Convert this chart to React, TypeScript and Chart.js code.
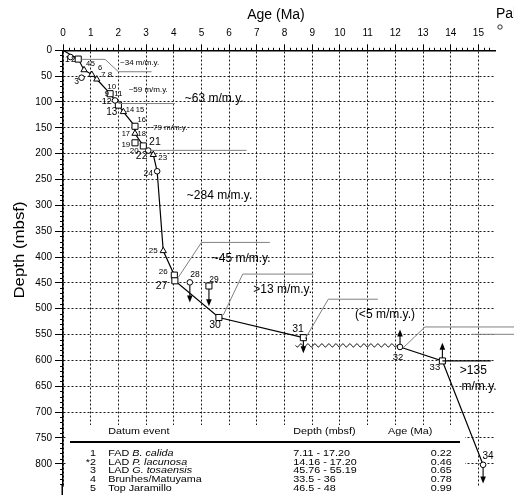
import React, { useEffect, useRef } from "react";
import { Chart, registerables } from "chart.js";
Chart.register(...registerables);

const FONT = "'Liberation Sans', Arial, Helvetica, sans-serif";

// ---------- data ----------
const xTickValues = [0, 1, 2, 3, 4, 5, 6, 7, 8, 9, 10, 11, 12, 13, 14, 15];
const yTickValues = [0, 50, 100, 150, 200, 250, 300, 350, 400, 450, 500, 550, 600, 650, 700, 750, 800];

// age (Ma), depth (mbsf)
const pathUpper: [number, number][] = [
  [0, 0], [0.55, 17], [0.76, 38], [1.04, 47], [1.22, 56], [1.7, 84], [2.0, 106], [2.18, 119],
  [2.6, 147], [2.6, 161], [2.9, 185], [3.08, 194], [3.26, 202], [3.4, 234], [3.62, 388],
  [4.02, 435], [4.04, 446], [5.63, 517], [8.68, 556],
];
const pathLower: [number, number][] = [[12.17, 574], [13.7, 601], [15.17, 802]];

const circleData: [number, number][] = [
  [0.27, 13], [0.67, 53], [1.88, 97], [3.08, 194], [3.4, 234], [4.58, 449], [12.17, 574], [15.17, 802],
];
const squareData: [number, number][] = [
  [0.55, 17], [1.7, 84], [2.0, 106], [2.6, 147], [2.6, 179], [2.9, 185], [4.02, 435], [4.04, 446],
  [5.27, 456], [5.63, 517], [8.68, 556], [13.7, 601],
];
const triangleData: [number, number][] = [
  [0.76, 38], [1.04, 47], [1.22, 56], [2.18, 119], [2.6, 161], [3.26, 202], [3.62, 388],
];

// arrows: age, from depth, to depth
const arrowData: [number, number, number][] = [
  [4.58, 449, 488], [5.27, 456, 495], [8.68, 556, 586], [12.17, 574, 540], [13.7, 601, 566], [15.17, 802, 838],
];

// hiatus: from age, to age, depth
const hiatusData: [number, number, number] = [8.4, 12.1, 571];

// point labels: text, age, depth, font size
const pointLabels: [string, number, number, number][] = [
  ["1", 0.155, 18.8, 8.5], ["2", 0.37, 18.8, 8.5], ["3", 0.49, 61, 8.5], ["4", 0.91, 27.2, 7.5],
  ["5", 1.08, 27.2, 7.5], ["6", 1.34, 35, 7.5], ["7", 1.45, 48, 8], ["8", 1.7, 48, 8],
  ["10", 1.76, 70.7, 8], ["9", 1.58, 83.5, 8], ["11", 2.0, 83.5, 8], ["12", 1.58, 99.8, 9],
  ["13", 1.76, 119.2, 10], ["14", 2.42, 116, 7.5], ["15", 2.78, 116, 7.5], ["16", 2.84, 135.3, 7.5],
  ["17", 2.27, 162.5, 7.5], ["18", 2.84, 162.5, 7.5], ["19", 2.27, 182, 8], ["21", 3.32, 177.5, 10.5],
  ["20", 2.57, 193.6, 8], ["22", 2.84, 204.7, 10.5], ["23", 3.6, 208.5, 8], ["24", 3.08, 238.8, 8.5],
  ["25", 3.26, 387.8, 8], ["26", 3.62, 428, 8], ["27", 3.56, 455.7, 10.5], ["28", 4.77, 435, 8.5],
  ["29", 5.45, 444.7, 8.5], ["30", 5.49, 531.5, 10.5], ["31", 8.49, 538.6, 10.5], ["32", 12.1, 593.6, 9.5],
  ["33", 13.43, 614.4, 9.5], ["34", 15.35, 785.8, 10],
];

// sedimentation-rate labels: text, age (left edge), depth (centre), font size
const rateLabels: [string, number, number, number][] = [
  ["~34 m/m.y.", 2.06, 24.7, 8], ["~59 m/m.y.", 2.37, 75.7, 8], ["~63 m/m.y.", 4.4, 93.2, 12],
  ["~79 m/m.y.", 3.08, 150.3, 8], ["~284 m/m.y.", 4.47, 281, 12], ["~45 m/m.y.", 5.37, 404, 12],
  [">13 m/m.y.", 6.87, 464, 12], ["(<5 m/m.y.)", 10.54, 510.7, 12], [">135", 14.33, 620.8, 12],
  ["m/m.y.", 14.39, 650, 12],
];

// leader lines (age, depth) polylines
const leaderLines: [number, number][][] = [
  [[0.675, 17.5], [1.52, 17.5], [2.0, 41.5], [3.2, 41.5]],
  [[2.0, 103], [4.04, 103]],
  [[3.14, 193.6], [6.63, 193.6]],
  [[4.16, 439.6], [5.0, 371.7], [7.47, 371.7]],
  [[5.79, 512], [6.49, 433], [9.04, 433]],
  [[8.74, 558.6], [9.58, 481.6], [11.37, 481.6]],
  [[12.29, 575.5], [13.07, 535.3], [16.3, 535.3]],
  [[14.75, 549.5], [16.3, 549.5]],
];
const blackLeader: [number, number][] = [[13.7, 601], [15.45, 601]];

// table
const tableNums = ["1", "*2", "3", "4", "5"];
const tablePrefix = ["FAD ", "LAD ", "LAD ", "", ""];
const tableTaxa = ["B. calida", "P. lacunosa", "G. tosaensis", "Brunhes/Matuyama", "Top Jaramillo"];
const tableItalic = [true, true, true, false, false];
const tableDepths = ["7.11 - 17.20", "14.16 - 17.20", "45.76 - 55.19", "33.5 - 36", "46.5 - 48"];
const tableAges = ["0.22", "0.46", "0.65", "0.78", "0.99"];

const toXY = (arr: [number, number][]) => arr.map(([x, y]) => ({ x, y }));

const SX = 1.1;
function stretchText(ctx: CanvasRenderingContext2D, t: string, x: number, y: number, align: CanvasTextAlign) {
  ctx.save();
  ctx.translate(x, y);
  ctx.scale(SX, 1);
  ctx.textAlign = align;
  ctx.fillText(t, 0, 0);
  ctx.restore();
}

const overlay = {
  id: "overlay",
  beforeDatasetsDraw(chart: any) {
    const ctx = chart.ctx as CanvasRenderingContext2D;
    const ca = chart.chartArea;
    ctx.save();
    // axis extension to bottom
    ctx.strokeStyle = "#000";
    ctx.lineWidth = 1.5;
    ctx.beginPath(); ctx.moveTo(ca.left - 0.75, ca.bottom - 1); ctx.lineTo(ca.left - 0.75, 495); ctx.stroke();
    // minor ticks
    ctx.lineWidth = 1;
    const xs = chart.scales.x, ys = chart.scales.y;
    for (let i = 1; i < 78; i++) {
      if (i % 5 === 0) continue;
      const x = Math.round(xs.getPixelForValue(i * 0.2)) + 0.5;
      ctx.beginPath(); ctx.moveTo(x, ca.top - 2.5); ctx.lineTo(x, ca.top); ctx.stroke();
    }
    for (let d = 10; d < 860; d += 10) {
      if (d % 50 === 0) continue;
      const y = Math.round(ys.getPixelForValue(d)) + 0.5;
      if (y > 495) break;
      ctx.beginPath(); ctx.moveTo(ca.left - 3, y); ctx.lineTo(ca.left, y); ctx.stroke();
    }
    // table box
    ctx.fillStyle = "#fff";
    ctx.fillRect(66, 425, 399, 75);
    ctx.fillStyle = "#000";
    ctx.textBaseline = "middle";
    const fs = 9.8;
    ctx.font = `${fs}px ${FONT}`;
    stretchText(ctx, "Datum event", 108.3, 431.7, "left");
    stretchText(ctx, "Depth (mbsf)", 293.3, 431.7, "left");
    stretchText(ctx, "Age (Ma)", 388, 431.7, "left");
    ctx.lineWidth = 2;
    ctx.beginPath(); ctx.moveTo(70, 442); ctx.lineTo(460, 442); ctx.stroke();
    const rowY = [453.3, 462, 470.7, 479.3, 488];
    for (let i = 0; i < tableNums.length; i++) {
      const y = rowY[i];
      ctx.font = `${fs}px ${FONT}`;
      stretchText(ctx, tableNums[i], 96, y, "right");
      stretchText(ctx, tableAges[i], 451.7, y, "right");
      stretchText(ctx, tableDepths[i], 293.3, y, "left");
      stretchText(ctx, tablePrefix[i], 108.3, y, "left");
      const w = ctx.measureText(tablePrefix[i]).width * SX;
      ctx.font = `${tableItalic[i] ? "italic " : ""}${fs}px ${FONT}`;
      stretchText(ctx, tableTaxa[i], 108.3 + w, y, "left");
    }
    ctx.restore();
  },
  afterDatasetsDraw(chart: any) {
    const ctx = chart.ctx as CanvasRenderingContext2D;
    const xs = chart.scales.x, ys = chart.scales.y;
    const X = (v: number) => xs.getPixelForValue(v);
    const Y = (v: number) => ys.getPixelForValue(v);
    ctx.save();
    // leaders
    ctx.strokeStyle = "#808080";
    ctx.lineWidth = 1;
    for (const l of leaderLines) {
      ctx.beginPath();
      l.forEach(([a, d], i) => (i ? ctx.lineTo(X(a), Y(d)) : ctx.moveTo(X(a), Y(d))));
      ctx.stroke();
    }
    ctx.strokeStyle = "#000";
    ctx.lineWidth = 1.3;
    ctx.beginPath();
    blackLeader.forEach(([a, d], i) => (i ? ctx.lineTo(X(a), Y(d)) : ctx.moveTo(X(a), Y(d))));
    ctx.stroke();
    // hiatus wavy line
    ctx.lineWidth = 1;
    ctx.beginPath();
    const [h0, h1, hd] = hiatusData;
    const x0 = X(h0), x1 = X(h1), yh = Y(hd);
    for (let x = x0; x <= x1; x += 0.5) {
      const y = yh + 1.6 * Math.sin(((x - x0) / 7) * Math.PI * 2);
      x === x0 ? ctx.moveTo(x, y) : ctx.lineTo(x, y);
    }
    ctx.stroke();
    // arrows
    for (const [a, d0, d1] of arrowData) {
      const x = X(a), y0 = Y(d0), y1 = Y(d1);
      const dir = y1 > y0 ? 1 : -1;
      ctx.lineWidth = 1.1;
      ctx.beginPath(); ctx.moveTo(x, y0 + dir * 3); ctx.lineTo(x, y1 - dir * 5); ctx.stroke();
      ctx.fillStyle = "#000";
      ctx.beginPath();
      ctx.moveTo(x, y1); ctx.lineTo(x - 2.8, y1 - dir * 7); ctx.lineTo(x + 2.8, y1 - dir * 7); ctx.closePath();
      ctx.fill();
    }
    // point labels
    ctx.fillStyle = "#000";
    ctx.textAlign = "center";
    ctx.textBaseline = "middle";
    for (const [t, a, d, s] of pointLabels) {
      ctx.font = `${s}px ${FONT}`;
      ctx.fillText(t, X(a), Y(d));
    }
    // rate labels
    ctx.textAlign = "left";
    for (const [t, a, d, s] of rateLabels) {
      ctx.font = `${s}px ${FONT}`;
      ctx.fillText(t, X(a), Y(d));
    }
    // titles
    ctx.font = `14px ${FONT}`;
    ctx.textAlign = "center";
    ctx.fillText("Age (Ma)", 276, 15);
    ctx.textAlign = "left";
    ctx.fillText("Paleomagnetic", 496, 14);
    ctx.lineWidth = 0.8;
    ctx.beginPath(); ctx.arc(500, 27, 2.2, 0, Math.PI * 2); ctx.stroke();
    ctx.save();
    ctx.translate(20, 250);
    ctx.rotate(-Math.PI / 2);
    ctx.scale(1.2, 1);
    ctx.textAlign = "center";
    ctx.font = `14px ${FONT}`;
    ctx.fillText("Depth (mbsf)", 0, 0);
    ctx.restore();
    ctx.restore();
  },
};

export default function App() {
  const ref = useRef<HTMLCanvasElement>(null);
  useEffect(() => {
    if (!ref.current) return;
    const marker = (data: [number, number][], style: string, r: number) => ({
      data: toXY(data),
      pointStyle: style,
      pointRadius: r,
      pointBackgroundColor: "#fff",
      pointBorderColor: "#000",
      pointBorderWidth: 1,
      showLine: false,
      order: 0,
    });
    const line = (data: [number, number][]) => ({
      data: toXY(data),
      showLine: true,
      borderColor: "#000",
      borderWidth: 1.2,
      pointRadius: 0,
      order: 1,
    });
    const chart = new Chart(ref.current, {
      type: "scatter",
      data: {
        datasets: [
          marker(circleData, "circle", 2.8),
          marker(squareData, "rect", 4.3),
          marker(triangleData, "triangle", 3.6),
          line(pathUpper),
          line(pathLower),
        ] as any,
      },
      options: {
        animation: false,
        responsive: false,
        maintainAspectRatio: false,
        layout: { padding: { left: 0, top: 0, right: 19, bottom: 0 } },
        plugins: { legend: { display: false }, tooltip: { enabled: false } },
        scales: {
          x: {
            type: "linear",
            position: "top",
            min: 0,
            max: 15.6,
            afterFit: (s: any) => { s.height = 50.3; },
            afterBuildTicks: (s: any) => { s.ticks = xTickValues.map((v) => ({ value: v })); },
            ticks: { color: "#000", font: { family: FONT, size: 10 }, padding: 5, maxRotation: 0, autoSkip: false },
            grid: { color: "#1a1a1a", lineWidth: 1, tickLength: 6, tickColor: "#000", tickWidth: 1 },
            border: { display: true, color: "#000", width: 1.5, dash: [2, 2] },
          },
          y: {
            type: "linear",
            reverse: true,
            min: 0,
            max: 843,
            afterFit: (s: any) => { s.width = 63; },
            afterBuildTicks: (s: any) => { s.ticks = yTickValues.map((v) => ({ value: v })); },
            ticks: { color: "#000", font: { family: FONT, size: 10 }, padding: 3, autoSkip: false },
            grid: { color: "#1a1a1a", lineWidth: 1, tickLength: 8, tickColor: "#000", tickWidth: 1 },
            border: { display: true, color: "#000", width: 1.5, dash: [2, 2] },
          },
        },
      } as any,
      plugins: [overlay],
    });
    return () => chart.destroy();
  }, []);
  return (
    <div style={{ position: "fixed", left: 0, top: 0, width: 514, height: 495, background: "#fff" }}>
      <canvas ref={ref} width={514} height={495} style={{ display: "block" }} />
    </div>
  );
}
